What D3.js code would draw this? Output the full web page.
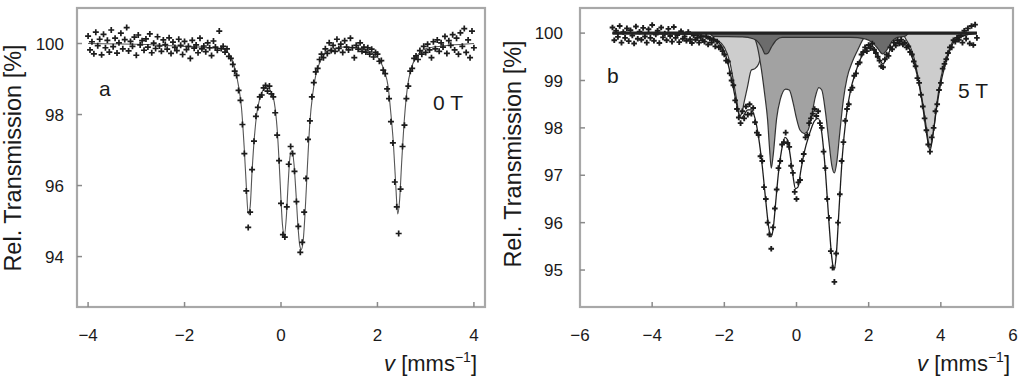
<!DOCTYPE html>
<html><head><meta charset="utf-8">
<script src="https://cdn.jsdelivr.net/npm/d3@7"></script>
<style>
body{margin:0;background:#fff;}
svg{display:block;font-family:"Liberation Sans",Arial,sans-serif;}
</style></head>
<body>
<svg id="c" width="1024" height="379"></svg>
<script>
// ---------- Panel a (0 T) ----------
const aStart = -4, aStep = 0.04;          // velocity channels
const aData = [
100.21,99.82,100.05,99.71,100.32,99.94,100.12,99.68,100.26,99.88,
100.09,99.76,100.38,99.91,100.15,99.73,100.02,100.29,99.85,100.11,
100.45,99.79,100.06,99.92,100.18,99.67,100.24,99.96,100.08,99.81,
100.13,99.9,100.27,99.74,100.01,99.86,100.19,99.93,99.78,100.1,
99.97,99.84,100.16,99.72,100.04,99.89,99.8,100.12,99.95,99.69,
100.06,99.83,99.92,99.58,100.09,99.87,99.96,99.74,100.15,99.85,
99.93,99.77,100.02,99.88,99.66,100.07,99.9,99.81,100.35,99.86,
99.92,99.76,99.85,99.64,99.58,99.41,99.22,99.1,98.68,98.4,
97.72,96.9,95.85,94.82,95.25,96.45,97.25,97.95,98.2,98.5,
98.55,98.75,98.82,98.66,98.8,98.58,98.5,98.05,97.42,96.7,
95.5,94.62,94.55,95.4,96.6,97.1,96.9,96.4,95.55,94.85,
94.12,94.4,95.25,96.2,97.3,97.82,98.5,98.9,99.2,99.3,
99.55,99.7,99.6,99.85,99.72,100.02,99.8,99.95,99.78,100.12,
99.86,99.98,99.75,100.08,99.9,99.82,100.15,99.88,99.6,99.95,
99.84,100.02,99.78,99.9,99.76,99.88,99.7,99.84,99.62,99.75,
99.7,99.5,99.52,99.25,99.15,98.72,98.45,97.8,97.2,96.1,
95.4,94.65,95.9,97.1,97.7,98.45,98.8,99.22,99.3,99.58,
99.65,99.55,99.8,99.7,99.92,99.75,99.98,99.82,99.6,100.05,
99.85,100.1,99.78,100.02,99.9,100.2,99.72,100.08,99.95,100.25,
99.82,100.15,99.7,100.3,99.92,100.42,99.75,100.1,99.6,100.35,99.88];
const aFitV = [-4.0,-3.0,-2.0,-1.5,-1.2,-1.08,-1.0,-0.94,-0.88,-0.82,-0.76,-0.72,-0.68,-0.64,-0.6,-0.55,-0.5,-0.44,-0.36,-0.28,-0.2,-0.14,-0.08,-0.04,0.0,0.03,0.07,0.11,0.15,0.19,0.23,0.27,0.31,0.35,0.39,0.42,0.46,0.5,0.55,0.6,0.66,0.72,0.8,0.9,1.0,1.3,1.6,1.9,2.05,2.15,2.22,2.28,2.33,2.38,2.42,2.46,2.5,2.56,2.62,2.7,2.8,3.0,3.5,4.0];
const aFitT = [100.0,99.98,99.92,99.88,99.84,99.72,99.5,99.2,98.8,98.2,97.0,96.0,95.2,95.4,96.4,97.4,98.05,98.45,98.7,98.75,98.62,98.35,97.6,96.7,95.6,94.9,94.6,95.1,96.1,96.85,96.98,96.6,95.8,94.9,94.3,94.2,94.45,95.25,96.6,97.8,98.6,99.1,99.45,99.7,99.82,99.9,99.88,99.72,99.52,99.2,98.8,98.0,97.2,96.0,95.2,95.6,96.6,97.9,98.75,99.3,99.6,99.85,99.95,100.0];
const aXTicks = [-4,-2,0,2,4];
const aYTicks = [94,96,98,100];

// ---------- Panel b (5 T) ----------
const bStart = -5.1, bStep = 0.05;
const bData = [
100.12,99.85,100.05,99.92,100.15,99.8,100.02,99.9,100.1,99.83,
100.06,99.95,99.78,100.14,99.88,100.03,99.86,100.11,99.93,99.8,
100.08,99.9,100.17,99.84,99.97,100.05,99.79,100.12,99.91,99.99,
99.85,100.09,99.94,99.82,100.13,99.9,99.96,99.81,100.04,99.88,
99.93,99.84,100.02,99.87,99.79,99.95,99.86,99.9,99.8,99.92,
99.85,99.82,99.93,99.76,99.88,99.8,99.86,99.72,99.82,99.7,
99.7,99.62,99.55,99.42,99.4,99.15,99.0,98.9,98.58,98.4,
98.22,98.1,98.35,98.2,98.45,98.28,98.5,98.3,98.42,98.12,
97.9,97.85,97.4,97.3,96.75,96.5,96.0,95.75,95.45,95.9,
96.3,96.7,97.15,97.3,97.65,97.7,97.9,97.68,97.6,97.2,
97.05,96.65,96.5,96.85,96.9,97.3,97.45,97.8,97.85,98.1,
98.2,98.3,98.4,98.25,98.35,98.1,98.0,97.5,97.15,96.5,
96.1,95.4,95.05,94.75,95.35,96.0,96.6,97.3,97.7,98.15,
98.4,98.5,98.8,98.85,99.1,99.15,99.35,99.38,99.55,99.6,
99.7,99.62,99.75,99.68,99.78,99.65,99.58,99.5,99.42,99.3,
99.28,99.45,99.55,99.52,99.7,99.66,99.8,99.74,99.85,99.78,
99.86,99.76,99.8,99.7,99.72,99.6,99.55,99.4,99.3,99.05,
98.95,98.7,98.45,98.2,97.95,97.65,97.5,97.8,98.0,98.35,
98.5,98.8,98.95,99.25,99.35,99.45,99.58,99.7,99.7,99.85,
99.82,99.9,99.86,99.95,99.8,100.05,99.88,100.1,99.78,100.15,99.75,100.18,99.9];
const bFitV = [-5.1,-3.0,-2.6,-2.3,-2.1,-1.95,-1.82,-1.7,-1.6,-1.53,-1.45,-1.35,-1.25,-1.15,-1.05,-0.95,-0.85,-0.77,-0.71,-0.65,-0.58,-0.5,-0.42,-0.32,-0.25,-0.18,-0.1,-0.03,0.04,0.12,0.22,0.35,0.5,0.6,0.7,0.8,0.9,0.98,1.04,1.1,1.18,1.27,1.38,1.5,1.65,1.8,1.95,2.1,2.22,2.32,2.4,2.48,2.6,2.75,2.9,3.05,3.2,3.35,3.5,3.6,3.7,3.78,3.88,4.0,4.15,4.35,4.6,5.0];
const bFitT = [100,99.98,99.93,99.86,99.75,99.5,99.1,98.65,98.3,98.2,98.28,98.38,98.38,98.2,97.8,97.2,96.45,95.9,95.7,95.85,96.4,97.05,97.5,97.8,97.75,97.45,97.0,96.72,96.75,97.1,97.5,97.85,98.15,98.2,97.9,97.1,96.0,95.25,95.0,95.3,96.3,97.4,98.25,98.8,99.2,99.5,99.68,99.72,99.6,99.42,99.35,99.45,99.65,99.78,99.82,99.78,99.5,99.1,98.45,97.9,97.52,97.85,98.4,98.95,99.4,99.8,99.93,100];
// sub-spectra
const bLightV = [-5.1,-2.8,-2.5,-2.2,-2.0,-1.85,-1.75,-1.65,-1.58,-1.52,-1.45,-1.36,-1.25,-1.15,-1.05,-0.95,-0.85,2.9,3.05,3.22,3.35,3.5,3.6,3.7,3.8,3.89,4.0,4.2,4.4,5.0];
const bLightT = [100,99.98,99.93,99.85,99.7,99.4,99.0,98.55,98.25,98.3,98.55,98.86,99.22,99.25,99.35,99.6,100,100,99.85,99.58,99.15,98.52,98.0,97.57,97.95,98.52,99.05,99.58,99.9,100];
const bMedV = [-1.25,-1.15,-1.08,-0.97,-0.88,-0.8,-0.75,-0.7,-0.65,-0.55,-0.45,-0.3,-0.2,-0.1,0.0,0.1,0.22,0.32,0.42,0.52,0.62,0.7,0.8,0.9,0.98,1.05,1.12,1.2,1.3,1.4,1.55,1.7,1.85,2.0];
const bMedT = [100,99.88,99.7,99.22,98.7,98.16,97.6,97.15,97.4,98.2,98.6,98.82,98.8,98.55,98.2,97.95,97.88,97.95,98.25,98.65,98.85,98.8,98.35,97.7,97.2,97.05,97.3,97.9,98.6,99.05,99.4,99.65,99.88,100];
const bDarkV = [-2.4,-2.3,-1.5,-1.2,-1.05,-0.95,-0.87,-0.8,-0.7,-0.55,-0.4,1.5,1.9,2.1,2.25,2.38,2.5,2.65,2.8,3.0,3.1];
const bDarkT = [100,99.93,99.92,99.88,99.8,99.68,99.56,99.57,99.7,99.86,99.91,99.91,99.88,99.8,99.68,99.56,99.64,99.83,99.91,99.93,100];
const bBaseV = [-5.1,5.0];
const bBaseT = [100,100];
const bXTicks = [-6,-4,-2,0,2,4,6];
const bYTicks = [95,96,97,98,99,100];

const yTitle = "Rel. Transmission [%]";
const panelLabels = ["a","b"];
const fieldLabels = ["0 T","5 T"];

// ---------- drawing ----------
const svg = d3.select("#c");
const defs = svg.append("defs");
defs.append("filter").attr("id","soft").attr("x","-5%").attr("y","-5%").attr("width","110%").attr("height","110%")
  .append("feGaussianBlur").attr("stdDeviation",0.6);

const fmt = d => (d<0 ? "\u2212"+Math.abs(d) : String(d));
const pts = (vs,ts) => vs.map((v,i)=>[v,ts[i]]);

function drawPanel(o){
  const x = d3.scaleLinear().domain(o.xd).range([o.L,o.R]);
  const y = d3.scaleLinear().domain(o.yd).range([o.B,o.T]);
  const g = svg.append("g");
  // frame
  g.append("rect").attr("x",o.L).attr("y",o.T).attr("width",o.R-o.L).attr("height",o.B-o.T)
    .attr("fill","none").attr("stroke","#a8a8a8").attr("stroke-width",2.2);
  // ticks (inward)
  g.selectAll(".xt").data(o.xt.filter(d=>d>o.xd[0]+0.01&&d<o.xd[1]-0.01)).enter().append("line")
    .attr("x1",d=>x(d)).attr("x2",d=>x(d)).attr("y1",o.B).attr("y2",o.B-5).attr("stroke","#8a8a8a").attr("stroke-width",1.5);
  g.selectAll(".yt").data(o.yt).enter().append("line")
    .attr("x1",o.L).attr("x2",o.L+5).attr("y1",d=>y(d)).attr("y2",d=>y(d)).attr("stroke","#8a8a8a").attr("stroke-width",1.5);
  // tick labels
  g.selectAll(".xl").data(o.xt).enter().append("text")
    .attr("x",d=>x(d)).attr("y",341).attr("text-anchor","middle").attr("font-size",17).attr("fill","#1a1a1a").text(fmt);
  g.selectAll(".yl").data(o.yt).enter().append("text")
    .attr("x",o.L-o.ylg).attr("y",d=>y(d)).attr("dy","0.36em").attr("text-anchor","end").attr("font-size",17).attr("fill","#1a1a1a").text(fmt);
  // axis titles
  g.append("text").attr("transform",`translate(${o.ytx},${o.yty}) rotate(-90)`).attr("text-anchor","middle")
    .attr("dy","0.36em").attr("font-size",23.5).attr("fill","#1a1a1a").text(yTitle);
  const xt = g.append("text").attr("x",o.xtx).attr("y",371).attr("text-anchor","end").attr("font-size",22).attr("fill","#1a1a1a");
  xt.append("tspan").attr("font-style","italic").text("v");
  xt.append("tspan").text(" [mms");
  xt.append("tspan").attr("font-size",14).attr("dy",-9).text("\u22121");
  xt.append("tspan").attr("dy",9).text("]");
  // labels
  g.append("text").attr("x",o.lx).attr("y",o.ly).attr("font-size",21).attr("fill","#1a1a1a").text(o.label);
  g.append("text").attr("x",o.fx).attr("y",o.fy).attr("font-size",21).attr("fill","#1a1a1a").text(o.field);

  const plot = g.append("g").attr("filter","url(#soft)");
  const area = d3.area().x(d=>x(d[0])).y0(y(100)).y1(d=>y(d[1])).curve(d3.curveMonotoneX);
  const line = d3.line().x(d=>x(d[0])).y(d=>y(d[1])).curve(d3.curveMonotoneX);
  (o.areas||[]).forEach(a=>{
    plot.append("path").attr("d",area(a.p)).attr("fill",a.c).attr("stroke","#333").attr("stroke-width",1.2);
  });
  plot.append("path").attr("d",line(o.fit)).attr("fill","none").attr("stroke",o.fitc).attr("stroke-width",o.fitw);
  const data = o.data.map((t,i)=>[o.x0+i*o.dx,t]);
  plot.selectAll(".p").data(data).enter().append("path")
    .attr("transform",d=>`translate(${x(d[0])},${y(d[1])})`)
    .attr("d",`M-${o.ms},0H${o.ms}M0,-${o.ms}V${o.ms}`).attr("stroke","#1c1c1c").attr("stroke-width",o.mw).attr("fill","none");
  if(o.base) plot.append("path").attr("d",line(o.base)).attr("stroke","#222").attr("stroke-width",3.2).attr("fill","none");
}

drawPanel({
  L:77,R:485,T:8,B:307, xd:[-4.23,4.23], yd:[92.58,101.0], xt:aXTicks, yt:aYTicks, ylg:13,
  ytx:13, yty:158, xtx:477, lx:99, ly:96, fx:433, fy:110, label:panelLabels[0], field:fieldLabels[0],
  fit:pts(aFitV,aFitT), fitc:"#555", fitw:1.1, data:aData, x0:aStart, dx:aStep, ms:3, mw:1.7
});
drawPanel({
  L:580,R:1013,T:8,B:307, xd:[-6,6], yd:[94.22,100.53], xt:bXTicks, yt:bYTicks, ylg:17,
  ytx:513, yty:154, xtx:1010, lx:607, ly:83, fx:958, fy:98, label:panelLabels[1], field:fieldLabels[1],
  areas:[{p:pts(bLightV,bLightT),c:"#cdcdcd"},{p:pts(bMedV,bMedT),c:"#a2a2a2"},{p:pts(bDarkV,bDarkT),c:"#6c6c6c"}],
  fit:pts(bFitV,bFitT), fitc:"#1e1e1e", fitw:1.3, data:bData, x0:bStart, dx:bStep, base:pts(bBaseV,bBaseT), ms:2.8, mw:1.9
});
</script>
</body></html>
